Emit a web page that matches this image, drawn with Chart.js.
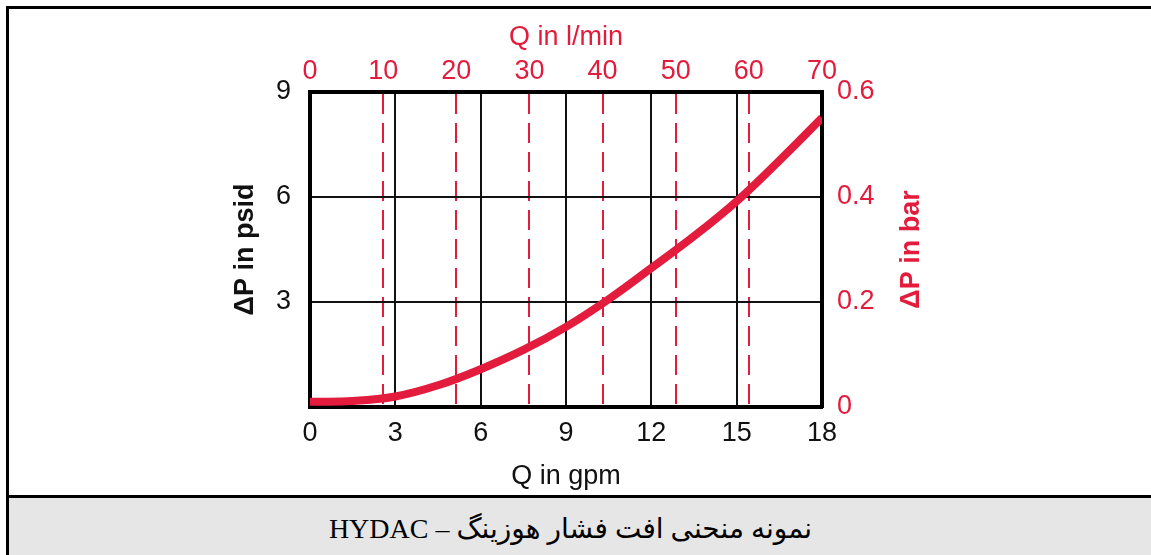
<!DOCTYPE html>
<html>
<head>
<meta charset="utf-8">
<script src="https://cdn.jsdelivr.net/npm/chart.js@4"></script>
<style>
  html, body { margin: 0; overflow: hidden; }
  body { width: 1151px; height: 555px; background: #fff; position: relative; }
  #frame { position: absolute; left: 6px; top: 6px; width: 1145px; height: 549px; border-left: 3px solid #000; border-top: 3px solid #000; }
  #caption { position: absolute; left: 6px; top: 495px; width: 1145px; height: 60px; background: #e6e6e6;
    border-left: 3px solid #000; border-top: 3px solid #000; }
  #caption div { position: absolute; left: 0; width: 1123px; top: 14px; text-align: center;
    font-family: "Liberation Serif", "DejaVu Sans", serif; font-size: 28px; color: #000; }
  #c { position: absolute; left: 0; top: 0; }
</style>
</head>
<body>
<div id="frame"></div>
<div id="caption"><div dir="rtl">نمونه منحنی افت فشار هوزینگ – HYDAC</div></div>
<canvas id="c" width="1151" height="496"></canvas>
<script>
  // flow in gpm, pressure drop in psid
  const flowGpm = [0, 1.5, 3, 4.5, 6, 7.5, 9, 10.5, 12, 13.5, 15, 16.5, 18];
  const dpPsid = [0.15, 0.17, 0.3, 0.62, 1.08, 1.63, 2.29, 3.08, 3.97, 4.88, 5.88, 7.04, 8.26];

  const gpmTicks = [0, 3, 6, 9, 12, 15, 18];
  const lminTicks = [0, 10, 20, 30, 40, 50, 60, 70];
  const psidTicks = [0, 3, 6, 9];
  const barTicks = [0, 0.2, 0.4, 0.6];

  const RED = "#e31b3c";
  const FONT = { family: "'Liberation Sans', Arial, sans-serif", size: 27 };

  // right title reads bottom-to-top, Chart.js would rotate it the other way
  const rightTitle = {
    id: "rightTitle",
    afterDraw(chart) {
      const ctx = chart.ctx;
      const a = chart.chartArea;
      ctx.save();
      ctx.translate(912, (a.top + a.bottom) / 2);
      ctx.rotate(-Math.PI / 2);
      ctx.font = "bold 27px 'Liberation Sans', Arial, sans-serif";
      ctx.fillStyle = RED;
      ctx.textAlign = "center";
      ctx.textBaseline = "middle";
      ctx.fillText("ΔP in bar", 0, 0);
      ctx.restore();
    }
  };

  new Chart(document.getElementById("c"), {
    type: "line",
    data: {
      datasets: [{
        data: flowGpm.map((x, i) => ({ x: x, y: dpPsid[i] })),
        borderColor: RED,
        borderWidth: 8,
        pointRadius: 0,
        tension: 0.4,
        fill: false
      }]
    },
    options: {
      responsive: false,
      animation: false,
      layout: { padding: { left: 229, right: 223, top: 21, bottom: 3 } },
      plugins: { legend: { display: false }, tooltip: { enabled: false } },
      scales: {
        x: {
          type: "linear", position: "bottom", min: 0, max: 18,
          afterBuildTicks: (s) => { s.ticks = gpmTicks.map((v) => ({ value: v })); },
          afterFit: (s) => { s.height = 86; },
          ticks: { color: "#111", font: FONT, padding: 10 },
          grid: { drawTicks: false, lineWidth: 2,
            color: (c) => (c.tick && (c.tick.value === 0 || c.tick.value === 18)) ? "transparent" : "#111" },
          border: { color: "#000", width: 4 },
          title: { display: true, text: "Q in gpm", color: "#111", font: FONT, padding: 0 }
        },
        x2: {
          type: "linear", position: "top", min: 0, max: 70,
          afterBuildTicks: (s) => { s.ticks = lminTicks.map((v) => ({ value: v })); },
          afterFit: (s) => { s.height = 71; },
          ticks: { color: RED, font: FONT, padding: 4 },
          grid: { drawTicks: false, lineWidth: 2,
            color: (c) => (c.tick && (c.tick.value === 0 || c.tick.value === 70)) ? "transparent" : RED },
          border: { color: "#000", width: 4, dash: [20, 9] },
          title: { display: true, text: "Q in l/min", color: RED, font: FONT, padding: 0 }
        },
        y: {
          type: "linear", position: "left", min: 0, max: 9,
          afterBuildTicks: (s) => { s.ticks = psidTicks.map((v) => ({ value: v })); },
          afterFit: (s) => { s.width = 81; },
          ticks: { color: "#111", font: FONT, padding: 19, callback: (v) => v === 0 ? "" : String(v) },
          grid: { drawTicks: false, lineWidth: 2,
            color: (c) => (c.tick && (c.tick.value === 0 || c.tick.value === 9)) ? "transparent" : "#111" },
          border: { color: "#000", width: 4 },
          title: { display: true, text: "ΔP in psid", color: "#111", font: { ...FONT, weight: "bold" }, padding: 0 }
        },
        y2: {
          type: "linear", position: "right", min: 0, max: 0.6,
          afterBuildTicks: (s) => { s.ticks = barTicks.map((v) => ({ value: v })); },
          afterFit: (s) => { s.width = 106; },
          ticks: { color: RED, font: FONT, padding: 15, callback: (v) => v === 0 ? "0" : v.toFixed(1) },
          grid: { display: false, drawTicks: false },
          border: { color: "#000", width: 4 }
        }
      }
    },
    plugins: [rightTitle]
  });
</script>
</body>
</html>
